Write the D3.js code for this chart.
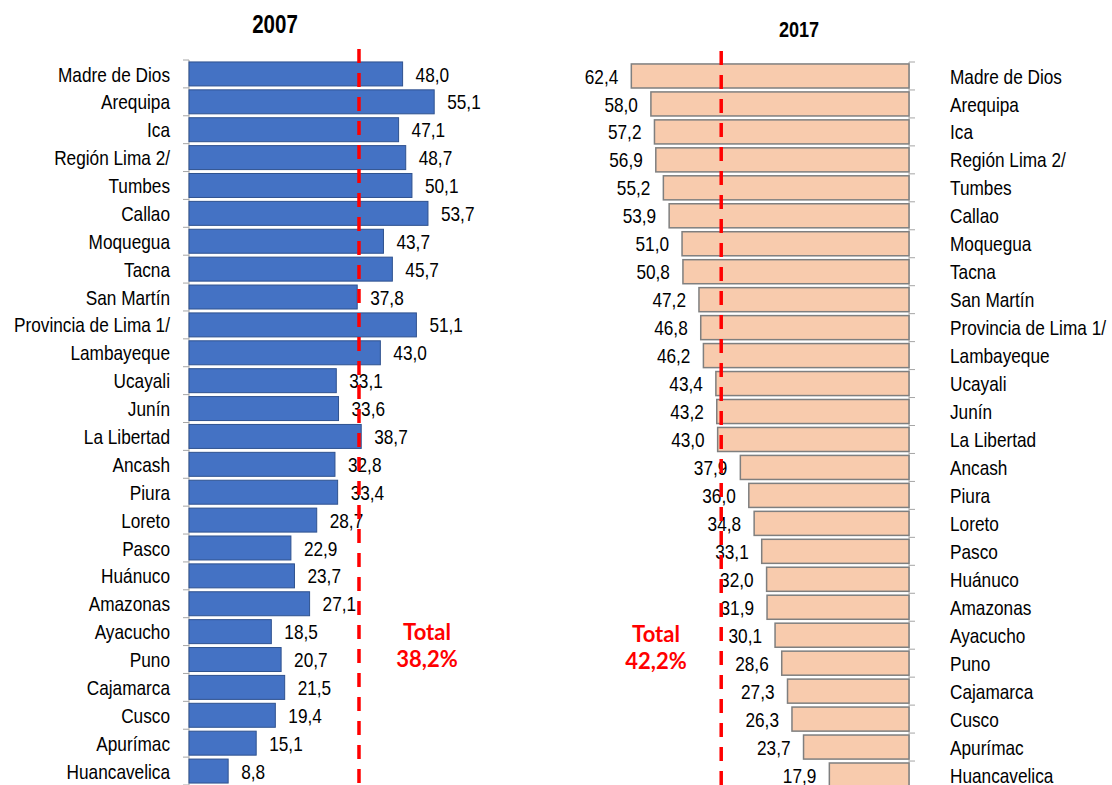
<!DOCTYPE html>
<html>
<head>
<meta charset="utf-8">
<script src="https://cdn.jsdelivr.net/npm/d3@7"></script>
<style>
  body { margin: 0; background: #fff; }
  svg { display: block; }
  .lbl { font-family: "Liberation Sans", Arial, sans-serif; font-size: 21px; fill: #000; }
  .ttl { font-family: "Liberation Sans", Arial, sans-serif; font-weight: bold; fill: #000; }
  .tot { font-family: Lato, "Open Sans", sans-serif; font-weight: bold; font-size: 22px; fill: #ff0000; }
</style>
</head>
<body>
<svg id="chart" width="1112" height="785"></svg>
<script>
var regions = ['Madre de Dios', 'Arequipa', 'Ica', 'Región Lima 2/', 'Tumbes', 'Callao',
  'Moquegua', 'Tacna', 'San Martín', 'Provincia de Lima 1/', 'Lambayeque', 'Ucayali',
  'Junín', 'La Libertad', 'Ancash', 'Piura', 'Loreto', 'Pasco', 'Huánuco', 'Amazonas',
  'Ayacucho', 'Puno', 'Cajamarca', 'Cusco', 'Apurímac', 'Huancavelica'];
var values2007 = [48.0, 55.1, 47.1, 48.7, 50.1, 53.7, 43.7, 45.7, 37.8, 51.1, 43.0, 33.1,
  33.6, 38.7, 32.8, 33.4, 28.7, 22.9, 23.7, 27.1, 18.5, 20.7, 21.5, 19.4, 15.1, 8.8];
var values2017 = [62.4, 58.0, 57.2, 56.9, 55.2, 53.9, 51.0, 50.8, 47.2, 46.8, 46.2, 43.4,
  43.2, 43.0, 37.9, 36.0, 34.8, 33.1, 32.0, 31.9, 30.1, 28.6, 27.3, 26.3, 23.7, 17.9];
var years = ['2007', '2017'];
var totals = [38.2, 42.2];

var svg = d3.select('#chart');
var fmt = function(v) { return d3.format('.1f')(v).replace('.', ','); };

// no Arial Narrow here, so squeeze the regular face to narrow width
function narrow(sel) {
  sel.each(function() {
    var w = this.getComputedTextLength();
    d3.select(this)
      .attr('textLength', w * 0.82)
      .attr('lengthAdjust', 'spacingAndGlyphs');
  });
}

// one panel per census year; side = 1 grows right, -1 grows left
function drawPanel(opt) {
  var data = regions.map(function(r, i) { return {name: r, value: opt.values[i]}; });
  var x = d3.scaleLinear().domain([0, 100]).range([opt.x0, opt.x0 + opt.side * 445]);
  var y = d3.scaleBand().domain(regions).range(opt.yRange)
    .paddingInner(0.14).paddingOuter(0.07);
  var g = svg.append('g');

  // axis line with ticks between categories
  var step = y.step();
  var top = opt.yRange[0];
  g.append('line')
    .attr('x1', opt.x0).attr('x2', opt.x0)
    .attr('y1', top).attr('y2', opt.yRange[1])
    .attr('stroke', '#a6a6a6').attr('stroke-width', 1);
  g.selectAll('.tick')
    .data(d3.range(regions.length + 1))
    .enter().append('line')
    .attr('x1', opt.x0).attr('x2', opt.x0 - opt.side * 6)
    .attr('y1', function(i) { return top + i * step; })
    .attr('y2', function(i) { return top + i * step; })
    .attr('stroke', '#a6a6a6').attr('stroke-width', 1);

  g.selectAll('.bar')
    .data(data)
    .enter().append('rect')
    .attr('x', function(d) { return Math.min(x(0), x(d.value)); })
    .attr('y', function(d) { return y(d.name); })
    .attr('width', function(d) { return Math.abs(x(d.value) - x(0)); })
    .attr('height', y.bandwidth())
    .attr('fill', opt.fill)
    .attr('stroke', opt.stroke)
    .attr('stroke-width', opt.strokeWidth);

  g.selectAll('.val')
    .data(data)
    .enter().append('text')
    .attr('class', 'lbl')
    .attr('x', function(d) { return x(d.value) + opt.side * 13; })
    .attr('y', function(d) { return y(d.name) + y.bandwidth() / 2; })
    .attr('dy', '0.36em')
    .attr('text-anchor', opt.side > 0 ? 'start' : 'end')
    .text(function(d) { return fmt(d.value); })
    .call(narrow);

  g.selectAll('.cat')
    .data(data)
    .enter().append('text')
    .attr('class', 'lbl')
    .attr('x', opt.catX)
    .attr('y', function(d) { return y(d.name) + y.bandwidth() / 2; })
    .attr('dy', '0.36em')
    .attr('text-anchor', opt.side > 0 ? 'end' : 'start')
    .text(function(d) { return d.name; })
    .call(narrow);

  // national total as a dashed reference line
  g.append('line')
    .attr('x1', x(opt.total)).attr('x2', x(opt.total))
    .attr('y1', opt.lineTop).attr('y2', 785)
    .attr('stroke', '#ff0000').attr('stroke-width', 3.5)
    .attr('stroke-dasharray', '14,10');

  g.append('text')
    .attr('class', 'ttl')
    .attr('x', opt.titleX).attr('y', opt.titleY)
    .attr('text-anchor', 'middle')
    .style('font-size', opt.titleSize + 'px')
    .text(opt.year)
    .call(narrow);

  var tot = g.append('text')
    .attr('class', 'tot')
    .attr('text-anchor', 'middle');
  tot.append('tspan').attr('x', opt.totX).attr('y', opt.totY).text('Total');
  tot.append('tspan').attr('x', opt.totX).attr('y', opt.totY + 27).text(fmt(opt.total) + '%');
}

drawPanel({
  values: values2007, year: years[0], total: totals[0],
  x0: 189, side: 1, yRange: [60, 785], catX: 170,
  fill: '#4472c4', stroke: '#2f528f', strokeWidth: 1,
  lineTop: 49, titleX: 275, titleY: 33, titleSize: 25,
  totX: 427, totY: 640
});

drawPanel({
  values: values2017, year: years[1], total: totals[1],
  x0: 909, side: -1, yRange: [62, 789], catX: 950,
  fill: '#f8cbad', stroke: '#7f7f7f', strokeWidth: 1.5,
  lineTop: 51, titleX: 799, titleY: 37, titleSize: 22,
  totX: 656, totY: 642
});
</script>
</body>
</html>
